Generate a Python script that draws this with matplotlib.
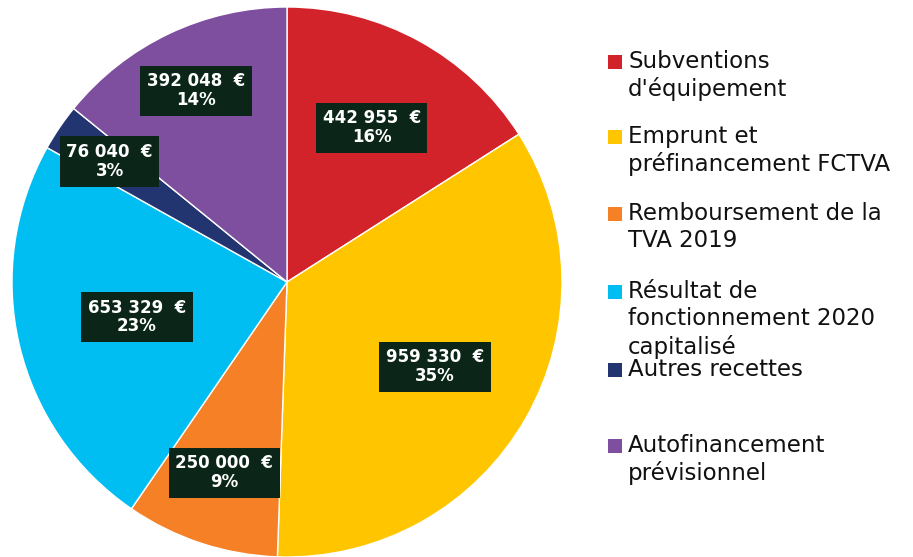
import matplotlib

matplotlib.use('Agg')
import matplotlib.pyplot as plt
from matplotlib.patches import Rectangle
import numpy as np

plt.rcParams['font.family'] = ['DejaVu Sans']

# Données
categories = [
    "Subventions\nd'équipement",
    "Emprunt et\npréfinancement FCTVA",
    "Remboursement de la\nTVA 2019",
    "Résultat de\nfonctionnement 2020\ncapitalisé",
    "Autres recettes",
    "Autofinancement\nprévisionnel",
]
values = [442955, 959330, 250000, 653329, 76040, 392048]
percents = [16, 35, 9, 23, 3, 14]
colors = ['#d2232a', '#ffc600', '#f58025', '#00bdf2', '#233570', '#7f4f9f']

# Position radiale des étiquettes (fraction du rayon)
label_r = [0.64, 0.62, 0.73, 0.56, 0.78, 0.77]
# Position verticale des entrées de légende (pixels depuis le haut)
legend_y = [62, 137, 214, 292, 370, 446]

W, H = 913, 557
fig = plt.figure(figsize=(W / 100, H / 100), dpi=100)
cx, cy, R = 287, 282, 275
ax = fig.add_axes([(cx - R) / W, (H - cy - R) / H, 2 * R / W, 2 * R / H])

wedges, _ = ax.pie(values, colors=colors, startangle=90, counterclock=False,
                   radius=1, wedgeprops=dict(edgecolor='white', linewidth=1))
ax.set_xlim(-1, 1)
ax.set_ylim(-1, 1)
ax.set_aspect('equal')
ax.axis('off')

for w, v, p, r in zip(wedges, values, percents, label_r):
    ang = np.deg2rad((w.theta1 + w.theta2) / 2)
    txt = f"{v:,}".replace(",", " ") + "  €\n" + f"{p}%"
    ax.text(r * np.cos(ang), r * np.sin(ang), txt, ha='center', va='center',
            color='white', fontsize=12, fontweight='bold', linespacing=1.05,
            bbox=dict(boxstyle='square,pad=0.4', facecolor='#0b2619', edgecolor='none'))

# Légende manuelle
for lab, col, y in zip(categories, colors, legend_y):
    fig.patches.append(Rectangle((608 / W, 1 - (y + 7) / H), 14 / W, 14 / H,
                                 transform=fig.transFigure, facecolor=col,
                                 edgecolor='none'))
    fig.text(628 / W, 1 - (y - 12) / H, lab, ha='left', va='top', fontsize=16.5,
             color='#111111', linespacing=1.23)

fig.savefig('out.png', dpi=100)
